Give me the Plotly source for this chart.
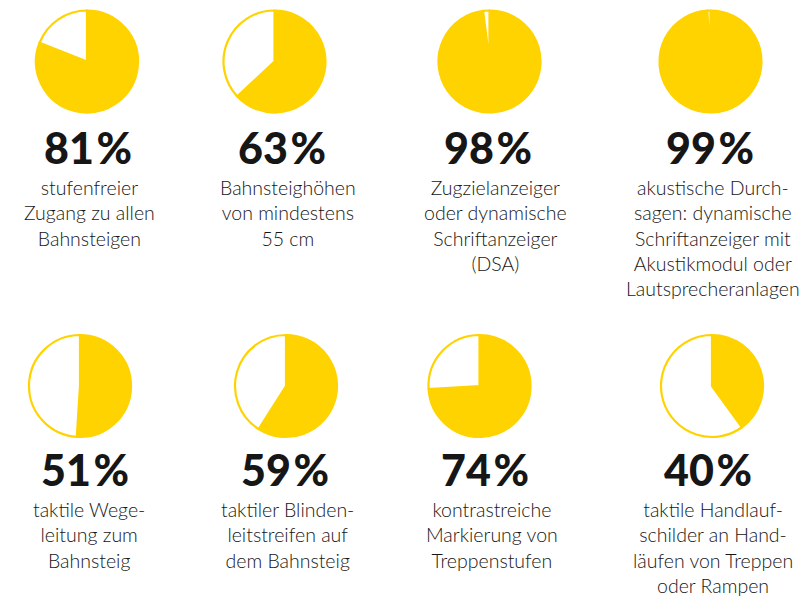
import plotly.graph_objects as go

# Share of stations with each accessibility feature (percent)
shares = [81, 63, 98, 99, 51, 59, 74, 40]
labels = [
    "stufenfreier<br>Zugang zu allen<br>Bahnsteigen",
    "Bahnsteighöhen<br>von mindestens<br>55 cm",
    "Zugzielanzeiger<br>oder dynamische<br>Schriftanzeiger<br>(DSA)",
    "akustische Durch-<br>sagen: dynamische<br>Schriftanzeiger mit<br>Akustikmodul oder<br>Lautsprecheranlagen",
    "taktile Wege-<br>leitung zum<br>Bahnsteig",
    "taktiler Blinden-<br>leitstreifen auf<br>dem Bahnsteig",
    "kontrastreiche<br>Markierung von<br>Treppenstufen",
    "taktile Handlauf-<br>schilder an Hand-<br>läufen von Treppen<br>oder Rampen",
]

W, H = 805, 597
YELLOW = "#FFD300"
INK = "#161616"
R = 51

# Panel layout in pixels: pie centre, percent-label centre, caption centre
pie_cx = [87, 274.5, 489.5, 710.5, 80, 286, 479.5, 712]
pie_cy = [61.5, 61.5, 61.5, 61.5, 386, 386, 386, 386]
pct_cx = [88, 282, 487.5, 710, 84.5, 284.5, 484.5, 708]
pct_cy = [147, 147, 147, 147, 469, 469, 469, 469]
cap_cx = [89, 288, 495, 713, 89, 287, 492, 713]
cap_top = [174, 174, 174, 174, 496, 496, 496, 496]


def px(x):
    return x / W


def py(y):
    return 1 - y / H


fig = go.Figure()
annotations = []
for i, v in enumerate(shares):
    cx, cy = pie_cx[i], pie_cy[i]
    fig.add_trace(go.Pie(
        values=[v, 100 - v],
        labels=["ja", "nein"],
        sort=False,
        direction="clockwise",
        rotation=0,
        marker=dict(colors=[YELLOW, "#FFFFFF"], line=dict(color=YELLOW, width=2.2)),
        textinfo="none",
        hoverinfo="skip",
        showlegend=False,
        domain=dict(x=[px(cx - R), px(cx + R)], y=[py(cy + R), py(cy - R)]),
    ))
    annotations.append(dict(
        x=px(pct_cx[i]), y=py(pct_cy[i]), xref="paper", yref="paper",
        xanchor="center", yanchor="middle", showarrow=False,
        text=f"{v}\u200a%",
        font=dict(family="Lato", size=43, color=INK, weight=900),
    ))
    annotations.append(dict(
        x=px(cap_cx[i]), y=py(cap_top[i]), xref="paper", yref="paper",
        xanchor="center", yanchor="top", showarrow=False, align="center",
        text=labels[i],
        font=dict(family="Lato", size=19.5, color=INK, weight=300),
    ))

fig.update_layout(
    width=W, height=H,
    margin=dict(l=0, r=0, t=0, b=0),
    paper_bgcolor="white", plot_bgcolor="white",
    annotations=annotations,
)

fig.write_html("out.html")
